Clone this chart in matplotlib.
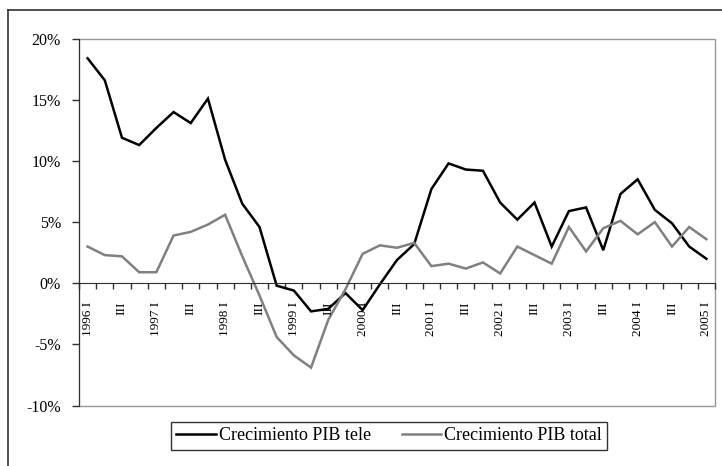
import matplotlib
matplotlib.use("Agg")
import matplotlib.pyplot as plt
from matplotlib.lines import Line2D
from matplotlib.patches import Rectangle
from matplotlib.ticker import FuncFormatter

# quarterly labels 1996 I .. 2005 I
years = [1996, 1997, 1998, 1999, 2000, 2001, 2002, 2003, 2004, 2005]
quarters = [f"{y} {q}" for y in years for q in ["I", "II", "III", "IV"]][:37]

# growth rates (%)
pib_tele = [18.4, 16.6, 11.9, 11.3, 12.7, 14.0, 13.1, 15.1, 10.1, 6.5,
            4.6, -0.2, -0.6, -2.3, -2.1, -0.8, -2.2, -0.1, 1.9, 3.2,
            7.7, 9.8, 9.3, 9.2, 6.6, 5.2, 6.6, 3.0, 5.9, 6.2,
            2.7, 7.3, 8.5, 6.0, 4.9, 3.0, 2.0]
pib_total = [3.0, 2.3, 2.2, 0.9, 0.9, 3.9, 4.2, 4.8, 5.6, 2.2,
             -1.0, -4.4, -5.9, -6.9, -3.0, -0.5, 2.4, 3.1, 2.9, 3.3,
             1.4, 1.6, 1.2, 1.7, 0.8, 3.0, 2.3, 1.6, 4.6, 2.6,
             4.5, 5.1, 4.0, 5.0, 3.0, 4.6, 3.6]

labels = []
for i, q in enumerate(quarters):
    if i % 4 == 0:
        labels.append(q)
    elif i % 4 == 2:
        labels.append("III")

plt.rcParams['font.family'] = ['Liberation Serif', 'DejaVu Serif']

fig = plt.figure(figsize=(7.22, 4.66), dpi=100)
ax = fig.add_axes([79/722, 1-405.5/466, 636/722, 366.8/466])

x = list(range(len(quarters)))
ax.plot(x, pib_tele, color='black', lw=1.8, label='Crecimiento PIB tele', solid_joinstyle='miter')
ax.plot(x, pib_total, color='#808080', lw=1.8, label='Crecimiento PIB total', solid_joinstyle='miter')

ax.set_xlim(-0.5, 36.5)
ax.set_ylim(-10, 20)

# plot area border (gray)
ax.add_patch(Rectangle((0, 0), 1, 1, transform=ax.transAxes, fill=False,
                       edgecolor='#999999', lw=1.0, zorder=1, clip_on=False))
ax.spines['top'].set_visible(False)
ax.spines['right'].set_visible(False)
ax.spines['left'].set_color('#303030')
ax.spines['left'].set_zorder(3)
ax.spines['bottom'].set_position(('data', 0))
ax.spines['bottom'].set_color('#303030')

ax.set_yticks(range(-10, 21, 5))
ax.yaxis.set_major_formatter(FuncFormatter(lambda v, p: f"{v:.0f}%"))
ax.tick_params(axis='y', length=5, width=1, color='#303030', labelsize=11.5, pad=8)

ax.set_xticks([i - 0.5 for i in range(38)])
ax.set_xticklabels([])
ax.tick_params(axis='x', length=4, width=1, color='#303030', direction='out')
for i, lab in zip(range(0, 37, 2), labels):
    ax.text(i, -1.5, lab, rotation=90, ha='center', va='top', fontsize=9.5)

leg = fig.legend(loc='center', bbox_to_anchor=(0.539, 0.0646), ncol=2,
                 fontsize=13, frameon=True, fancybox=False, edgecolor='black',
                 handlelength=2.2, handletextpad=0.15, columnspacing=1.7,
                 borderpad=0.3, borderaxespad=0)
leg.get_frame().set_linewidth(1.0)

# outer chart frame
fig.add_artist(Line2D([8/722, 1], [1-10/466, 1-10/466], color='#303030', lw=1.2))
fig.add_artist(Line2D([8/722, 8/722], [0, 1-10/466], color='#303030', lw=1.2))

fig.savefig('out.png', dpi=100)
